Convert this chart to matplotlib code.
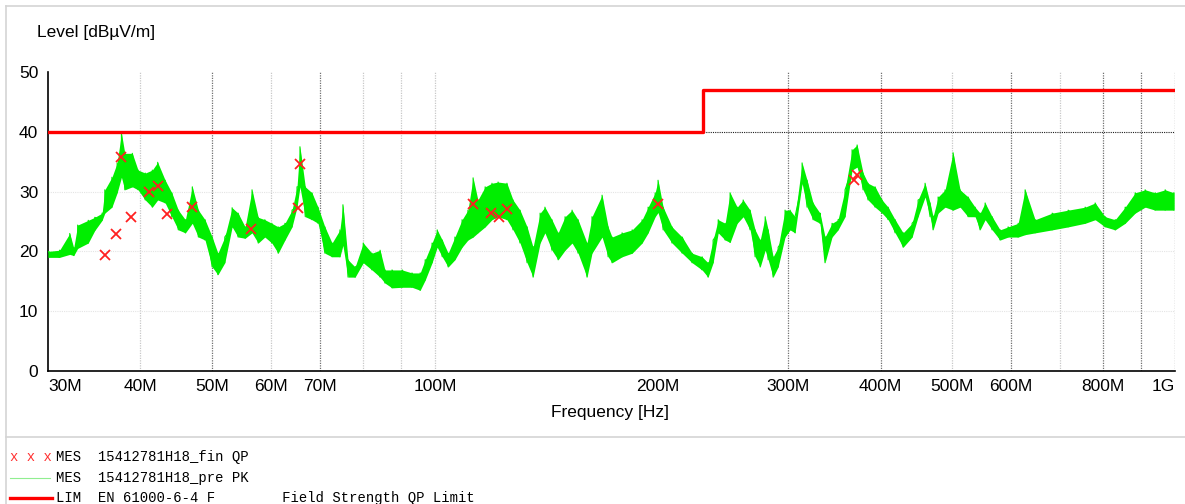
import matplotlib
matplotlib.use("Agg")
import matplotlib.pyplot as plt
from matplotlib.lines import Line2D

# pre scan (PK): frequency [MHz], lower / upper edge of the trace [dBuV/m]
freq_mhz = [30.0, 31.1, 32.1, 32.5, 32.9, 34.0, 34.7, 35.5, 35.8, 36.6, 37.2, 37.7, 38.1, 39.0, 39.7,
            40.6, 41.5, 42.2, 43.2, 44.1, 45.0, 46.0, 47.0, 47.9, 48.9, 50.0, 50.9, 52.0, 53.2, 54.2,
            55.4, 56.6, 57.7, 58.9, 60.2, 61.4, 62.7, 64.1, 65.1, 65.7, 66.8, 68.2, 69.5, 71.0, 72.6,
            74.4, 75.1, 76.3, 78.0, 80.0, 82.2, 84.3, 85.6, 87.5, 90.3, 93.1, 95.5, 97.0, 99.1, 100.7,
            102.3, 104.2, 106.4, 108.8, 110.8, 112.6, 114.3, 116.9, 119.4, 121.7, 125.1, 127.5, 130.3,
            133.2, 135.7, 138.7, 140.8, 143.9, 146.7, 149.9, 153.2, 156.1, 160.5, 163.0, 168.2, 171.4,
            173.5, 179.0, 184.7, 190.5, 194.1, 198.4, 200.2, 203.4, 209.1, 215.8, 222.6, 229.6, 233.9,
            237.6, 241.4, 246.7, 250.5, 256.1, 260.9, 266.6, 270.8, 275.1, 279.4, 282.0, 286.4, 290.9,
            297.2, 301.9, 306.6, 313.4, 318.3, 324.3, 331.4, 336.6, 344.0, 350.5, 358.2, 366.1, 371.9,
            378.9, 384.8, 393.3, 402.0, 409.6, 418.6, 429.2, 441.3, 449.6, 459.5, 466.7, 471.1, 478.5,
            489.0, 501.3, 512.4, 525.3, 536.9, 545.3, 553.9, 566.1, 580.3, 594.9, 613.8, 627.3, 647.1,
            682.4, 717.2, 756.1, 780.0, 804.6, 830.1, 856.3, 883.4, 911.3, 940.1, 969.9, 996.6]
level_lo = [19.0, 19.0, 19.5, 19.3, 20.5, 21.4, 23.5, 25.2, 26.4, 27.4, 29.8, 32.4, 30.3, 30.8, 30.3,
            28.6, 27.4, 28.6, 28.1, 25.8, 23.6, 23.1, 24.7, 22.4, 21.9, 17.4, 16.1, 18.1, 24.1, 22.4,
            22.2, 23.1, 21.4, 22.4, 21.4, 19.7, 21.9, 24.1, 27.4, 30.8, 25.8, 25.3, 24.7, 19.7, 19.1,
            19.1, 21.0, 15.7, 15.7, 18.1, 16.9, 15.7, 14.7, 13.9, 14.0, 14.0, 13.5, 15.2, 18.1, 20.7,
            19.1, 17.4, 18.6, 20.7, 21.9, 22.4, 23.1, 24.1, 25.3, 25.8, 25.3, 23.6, 21.4,
            18.1, 15.7, 21.4, 23.1, 20.2, 18.6, 20.2, 21.4, 19.7, 15.7, 19.7, 22.4, 19.1,
            18.1, 19.1, 19.7, 21.4, 23.1, 25.8, 26.5, 23.6, 21.4, 19.7, 18.1, 16.9, 15.7,
            18.1, 23.1, 21.9, 21.5, 24.7, 25.8, 23.6, 19.1, 17.4, 20.2, 18.6, 15.7, 17.4,
            22.4, 23.6, 23.1, 31.4, 27.4, 25.3, 24.7, 18.1, 22.4, 23.6, 25.8, 33.6, 34.1,
            30.3, 28.6, 27.4, 26.4, 25.3, 23.1, 20.7, 22.4, 25.8, 29.1, 25.8, 23.6, 26.4,
            27.4, 26.9, 27.4, 25.8, 25.8, 23.6, 25.3, 23.6, 21.9, 22.4, 22.4, 22.8, 23.1,
            23.6, 24.1, 24.7, 25.3, 24.1, 23.6, 24.7, 26.4, 27.4, 26.9, 26.9, 26.9]
level_hi = [20.0, 20.2, 23.0, 20.6, 24.4, 25.2, 25.7, 26.4, 30.3, 32.4, 34.8, 39.8, 36.4, 36.4, 33.6,
            33.1, 33.6, 34.9, 31.9, 29.8, 26.9, 25.3, 30.8, 26.9, 25.3, 22.4, 19.7, 22.4, 27.3, 26.4,
            24.1, 30.3, 25.7, 25.3, 24.7, 24.1, 24.7, 26.9, 30.8, 37.5, 30.8, 29.8, 27.4, 24.1, 21.4,
            23.6, 27.8, 18.6, 17.4, 21.4, 19.7, 20.2, 16.9, 16.9, 16.9, 16.4, 16.4, 18.6, 21.4, 23.6,
            21.9, 19.7, 22.4, 25.3, 26.9, 32.3, 28.6, 30.8, 31.4, 31.6, 31.4, 28.6, 26.9,
            24.1, 20.7, 26.4, 27.4, 25.3, 23.1, 25.8, 26.9, 25.3, 21.4, 25.8, 29.4, 24.1,
            22.4, 23.1, 23.6, 25.3, 27.4, 29.8, 31.9, 27.4, 24.1, 22.4, 19.7, 19.1, 18.1,
            21.9, 25.3, 24.7, 29.8, 27.4, 28.6, 26.9, 23.6, 21.9, 25.8, 23.6, 19.1, 20.7,
            26.9, 26.9, 25.8, 34.8, 31.9, 28.1, 26.4, 22.4, 24.7, 25.3, 30.3, 37.0, 37.8,
            33.1, 31.4, 30.8, 28.6, 27.4, 25.3, 23.1, 24.7, 28.6, 31.4, 28.1, 25.8, 29.1,
            30.3, 36.5, 30.3, 29.1, 27.4, 26.4, 28.1, 25.8, 23.6, 24.1, 24.7, 30.3, 25.3,
            26.4, 26.9, 27.4, 28.1, 25.8, 25.3, 27.4, 29.8, 30.3, 29.8, 30.3, 29.8]

# final measurement (QP) markers
meas_mhz = [35.8, 37.1, 37.7, 38.9, 41.1, 42.2, 43.5, 47.0, 56.4, 65.3, 65.7,
            112.6, 119.0, 121.9, 125.1, 200.2, 368.0, 372.0]
meas_db = [19.4, 22.9, 35.8, 25.8, 29.9, 30.9, 26.3, 27.4, 23.7, 27.3, 34.6,
           27.9, 26.4, 25.8, 27.1, 27.9, 31.9, 32.7]

# EN 61000-6-4 QP limit
limit_mhz = [30, 230, 230, 1000]
limit_db = [40, 40, 47, 47]

tick_mhz = [30, 40, 50, 60, 70, 100, 200, 300, 400, 500, 600, 800, 1000]
tick_labels = ["30M", "40M", "50M", "60M", "70M", "100M", "200M", "300M", "400M", "500M", "600M", "800M", "1G"]
grid_dark = [50, 70, 300, 400, 600, 800, 900, 1000]
grid_light = [40, 60, 80, 90, 100, 500, 700]

plt.rcParams['font.family'] = ['Liberation Sans', 'DejaVu Sans']

fig = plt.figure(figsize=(11.85, 5.04), dpi=100)
ax = fig.add_axes([48 / 1185, 133 / 504, 1127 / 1185, 299 / 504])
ax.set_xscale("log")
ax.set_xlim(30, 1000)
ax.set_ylim(0, 50)

# grid
for f in grid_light:
    ax.axvline(f, color="#c8c8c8", lw=0.9, ls=(0, (1, 1)), zorder=1)
for f in grid_dark:
    ax.axvline(f, color="#707070", lw=0.9, ls=(0, (1, 1)), zorder=1)
for lv in [10, 20, 30]:
    ax.axhline(lv, color="#e4e4e4", lw=0.8, ls=(0, (1, 1)), zorder=1)
ax.axhline(40, color="#202020", lw=0.8, ls=(0, (1, 1)), zorder=1)

# trace: solid band between lower and upper edge, zig-zag on top
ax.fill_between(freq_mhz, level_lo, level_hi, color="#00ee00", lw=0, zorder=2)
zx, zy = [], []
for f, lo, hi in zip(freq_mhz, level_lo, level_hi):
    zx += [f, f]
    zy += [lo, hi]
ax.plot(zx, zy, color="#00ee00", lw=0.8, zorder=3)

ax.plot(limit_mhz, limit_db, color="#ff0000", lw=2.4, zorder=4)
ax.plot(meas_mhz, meas_db, "x", color="#ff2020", ms=7, mew=1.3, zorder=5)

ax.spines["top"].set_visible(False)
ax.spines["right"].set_visible(False)
ax.spines["left"].set_linewidth(1.2)
ax.spines["bottom"].set_linewidth(1.2)

ax.set_xticks(tick_mhz)
ax.set_xticklabels(tick_labels)
ax.xaxis.set_minor_locator(matplotlib.ticker.NullLocator())
ax.set_yticks(range(0, 51, 10))
ax.tick_params(length=0, labelsize=12.5, colors="black")
ax.tick_params(axis="x", pad=6)
ax.tick_params(axis="y", pad=7)
lbls = ax.get_xticklabels()
lbls[0].set_ha("left")
lbls[-1].set_ha("right")

fig.text(37 / 1185, 1 - 33 / 504, "Level [dBµV/m]", fontsize=12.5, va="center", ha="left")
fig.text(610 / 1185, 1 - 413 / 504, "Frequency [Hz]", fontsize=12.5, va="center", ha="center")

# frame and separator
fig.add_artist(Line2D([6 / 1185, 1], [1 - 6 / 504, 1 - 6 / 504], color="#d4d4d4", lw=1.2))
fig.add_artist(Line2D([6 / 1185, 6 / 1185], [0, 1 - 6 / 504], color="#d4d4d4", lw=1.2))
fig.add_artist(Line2D([6 / 1185, 1], [1 - 437 / 504, 1 - 437 / 504], color="#d4d4d4", lw=1.2))

# legend block
mono = "Liberation Mono"
fig.text(10 / 1185, 1 - 457 / 504, "x x x", family=mono, fontsize=10, color="#ff3030", va="center")
fig.text(56 / 1185, 1 - 457 / 504, "MES  15412781H18_fin QP", family=mono, fontsize=10, va="center")
fig.add_artist(Line2D([10 / 1185, 50 / 1185], [1 - 478 / 504, 1 - 478 / 504], color="#90ee90", lw=0.8))
fig.text(56 / 1185, 1 - 478 / 504, "MES  15412781H18_pre PK", family=mono, fontsize=10, va="center")
fig.add_artist(Line2D([10 / 1185, 52 / 1185], [1 - 498 / 504, 1 - 498 / 504], color="#ff0000", lw=2.4))
fig.text(56 / 1185, 1 - 498 / 504, "LIM  EN 61000-6-4 F        Field Strength QP Limit",
         family=mono, fontsize=10, va="center")

fig.savefig("out.png", dpi=100)
